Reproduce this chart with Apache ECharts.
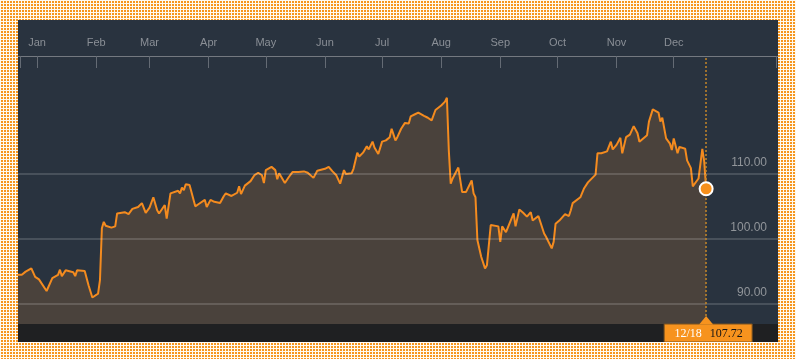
<!DOCTYPE html>
<html><head><meta charset="utf-8">
<script src="https://cdn.jsdelivr.net/npm/echarts@6/dist/echarts.min.js"></script>
<style>
html,body{margin:0;padding:0;width:796px;height:359px;overflow:hidden;}
body{background-color:#f6961f;background-image:linear-gradient(90deg,#fffaf0 1px,transparent 1px),linear-gradient(#fffaf0 1px,transparent 1px);background-size:3px 3px;}
#chart{position:absolute;left:18px;top:20px;width:760px;height:322px;}
</style></head>
<body>
<div id="chart"></div>
<script>
// Day offsets from Jan 1 (2017) and closing values
const baseYear = 2017;
const dayOffsets = [-10,-9,-8,-6,-3,-1,1,5,8,11,12,13,15,19,20,21,25,27,28,29,32,33,34,35,36,39,41,42,43,46,48,50,53,54,55,57,59,61,63,64,67,68,70,71,74,75,76,77,78,80,81,83,85,88,89,91,93,96,98,99,102,105,106,107,109,110,112,114,116,118,119,120,123,125,126,127,130,132,134,137,138,140,142,145,147,148,151,152,153,155,157,159,161,162,165,166,168,169,171,173,174,176,177,179,181,183,185,186,188,189,191,193,195,196,198,200,201,203,205,207,209,210,212,214,215,216,217,218,221,223,224,225,226,228,229,230,231,233,235,236,238,239,242,243,244,245,246,250,251,253,255,257,259,260,263,266,267,270,271,272,274,277,279,280,281,285,287,289,293,294,296,299,301,302,304,306,307,308,309,311,313,315,316,318,320,321,323,326,327,328,330,332,333,334,336,337,340,341,343,344,347,349,350,351];
const prices = [94.4,94.7,94.4,94.9,95.4,94.1,93.7,91.9,93.9,94.4,95.2,94.2,95.1,94.8,94.2,95.1,95.0,92.8,93.1,90.9,91.5,93.6,101.6,102.6,102.0,101.7,101.9,103.9,104.1,104.1,103.8,104.6,104.9,104.9,105.5,104.0,104.8,106.4,104.4,103.9,105.2,103.1,107.0,106.7,107.4,107.0,107.9,107.5,108.4,108.3,108.0,105.0,105.4,106.0,104.9,106.0,105.7,105.5,106.6,107.0,106.6,107.1,108.1,106.9,108.2,107.9,108.9,109.8,110.2,109.8,108.6,110.6,111.1,110.6,109.2,110.1,108.6,109.5,110.3,110.3,110.6,110.4,110.2,109.4,110.5,110.4,110.8,110.7,111.1,110.4,109.8,108.5,110.6,110.0,110.1,110.8,113.3,112.7,113.3,114.3,113.8,115.0,114.1,113.1,115.0,115.2,115.7,117.0,115.2,115.7,117.0,117.9,117.8,118.9,119.2,119.5,119.2,119.0,118.7,118.3,119.9,120.1,120.6,121.2,121.8,113.7,108.5,109.3,111.0,107.2,107.5,107.2,107.5,109.0,107.0,106.4,99.8,97.2,95.4,95.9,102.1,102.4,101.9,99.5,101.9,101.9,101.0,103.9,101.9,104.5,104.0,103.4,104.1,102.8,103.5,100.8,100.3,98.5,99.5,102.3,102.8,103.8,103.5,104.4,105.5,106.4,107.8,108.7,109.9,113.2,113.2,113.5,115.0,113.8,114.5,115.6,113.2,112.9,115.7,116.1,117.4,116.3,115.0,115.5,116.0,118.1,120.0,119.5,118.1,118.7,115.5,114.7,113.7,115.5,113.2,114.2,113.9,112.1,110.9,108.1,109.3,113.9,111.9,107.72];
const monthStarts = [0,31,59,90,120,151,181,212,243,273,304,334];
const monthNames = ['Jan','Feb','Mar','Apr','May','Jun','Jul','Aug','Sep','Oct','Nov','Dec'];
const edgeTicks = [-9, 388];
const gridValues = [90, 100, 110];

const chart = echarts.init(document.getElementById('chart'), null, {renderer:'canvas'});
const points = dayOffsets.map((d, i) => [d, prices[i]]);
const last = points[points.length - 1];

chart.setOption({
  backgroundColor: '#29333f',
  animation: false,
  grid: {left: 0, right: 0, top: 36, bottom: 18},
  xAxis: {
    type: 'value', position: 'top', min: -10, max: 388.7,
    axisLine: {show: true, onZero: false, lineStyle: {color: '#747980', width: 1.2}},
    axisTick: {show: true, inside: true, length: 12, customValues: edgeTicks.concat(monthStarts), lineStyle: {color: '#646b74', width: 1}},
    axisLabel: {customValues: monthStarts, formatter: v => monthNames[monthStarts.indexOf(v)], color: '#8a8f96', fontSize: 11, fontFamily: 'Liberation Sans', margin: 8},
    splitLine: {show: false}
  },
  yAxis: {type: 'value', min: 86.8, max: 128.25, show: false},
  series: [{
    type: 'line', data: points, showSymbol: false, symbol: 'none',
    lineStyle: {color: '#f48b1f', width: 2},
    itemStyle: {color: '#f48b1f'},
    areaStyle: {color: '#4a423c', opacity: 1},
    markLine: {
      silent: true, symbol: 'none', animation: false,
      data: gridValues.map(v => ({
        yAxis: v,
        lineStyle: {color: 'rgba(255,255,255,0.2)', width: 1.5, type: 'solid'},
        label: {show: true, position: 'insideEndTop', formatter: p => Number(p.value).toFixed(2), color: '#91959a', fontSize: 12, fontFamily: 'Liberation Sans', distance: [11, 5]}
      })).concat([{
        xAxis: last[0],
        lineStyle: {color: '#c4862a', type: [2, 2], width: 1.5},
        label: {show: false}
      }])
    }
  }, {
    type: 'scatter', data: [last], symbolSize: 13, z: 5,
    itemStyle: {color: '#f7901c', borderColor: '#ffffff', borderWidth: 2, opacity: 1}
  }]
});

const px = chart.convertToPixel({gridIndex: 0}, last);
const H = chart.getHeight(), W = chart.getWidth();
const barTop = H - 18;
const dt = new Date(Date.UTC(baseYear, 0, 1) + last[0] * 86400000);
const dateText = (dt.getUTCMonth() + 1) + '/' + dt.getUTCDate();
chart.setOption({
  graphic: [
    {type: 'rect', z: 10, shape: {x: 0, y: barTop, width: W, height: 18}, style: {fill: '#1f2022'}},
    {type: 'rect', z: 11, shape: {x: px[0] - 42, y: barTop, width: 88, height: 18}, style: {fill: '#f7931e', stroke: '#7a5220', lineWidth: 1}},
    {type: 'polygon', z: 12, shape: {points: [[px[0] - 7, barTop + 0.5], [px[0], barTop - 8], [px[0] + 7, barTop + 0.5]]}, style: {fill: '#f7931e'}},
    {type: 'text', z: 13, x: px[0] - 18, y: barTop + 9.5, style: {text: dateText, fill: '#ffffff', font: '12px "Liberation Serif"', align: 'center', verticalAlign: 'middle', textAlign: 'center', textVerticalAlign: 'middle'}},
    {type: 'text', z: 13, x: px[0] + 20, y: barTop + 9.5, style: {text: last[1].toFixed(2), fill: '#141414', font: '12px "Liberation Serif"', align: 'center', verticalAlign: 'middle', textAlign: 'center', textVerticalAlign: 'middle'}}
  ]
});
</script>
</body></html>
